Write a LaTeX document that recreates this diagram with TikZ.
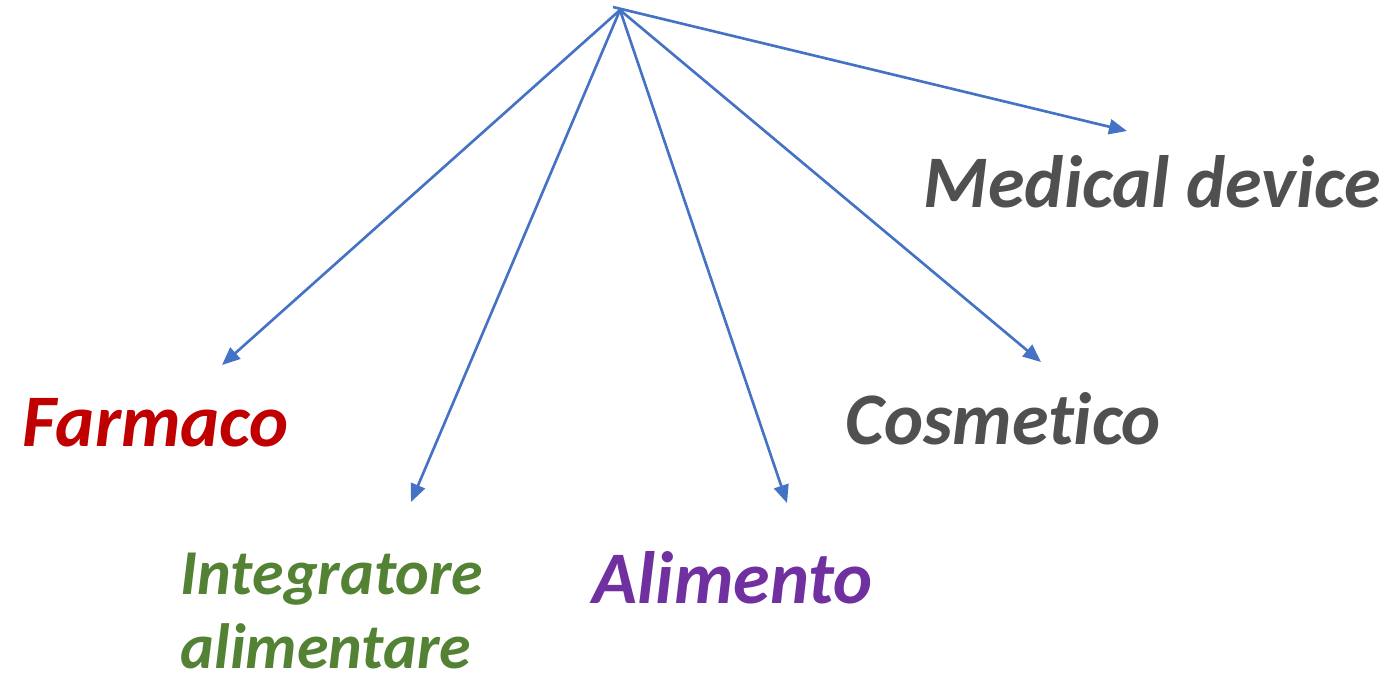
\documentclass[tikz,border=0pt]{standalone}
\usepackage{fontspec}
\setmainfont{Carlito}[Ligatures=NoCommon]
\usetikzlibrary{arrows.meta}
\definecolor{arrowblue}{HTML}{4472C4}
\definecolor{farmred}{HTML}{C00000}
\definecolor{intgreen}{HTML}{548235}
\definecolor{alipurple}{HTML}{7030A0}
\definecolor{darkgray}{HTML}{505050}
\begin{document}
\begin{tikzpicture}[
    arr/.style={draw=arrowblue, line width=0.75pt, -{Triangle[length=1.8mm,width=1.5mm]}},
    lab/.style={inner sep=0pt, anchor=base west, font=\bfseries\itshape\fontsize{21.1}{26}\selectfont},
    smalllab/.style={inner sep=0pt, anchor=base west, align=left, font=\bfseries\itshape\fontsize{18.2}{21}\selectfont}]
    \useasboundingbox (0,0) rectangle (13.88,-6.80);

   \coordinate (top) at (6.20,-0.10);
   \coordinate (tail) at (6.13,-0.07);
   \coordinate (farm) at (2.22,-3.65);
   \coordinate (integ) at (4.11,-5.02);
   \coordinate (alim) at (7.87,-5.03);
   \coordinate (cosm) at (10.41,-3.62);
   \coordinate (med) at (11.27,-1.31);

\node[lab, text=farmred] (farmaco) at (0.22,-4.46) {Farmaco};
\node[smalllab, text=intgreen] (integratore) at (1.80,-6.68) {Integratore\\alimentare};
\node[lab, text=alipurple] (alimento) at (5.92,-6.03) {Alimento};
\node[lab, text=darkgray] (cosmetico) at (8.45,-4.44) {Cosmetico};
\node[lab, text=darkgray] (medical) at (9.23,-2.07) {Medical device};

   \draw[arr] (top) -- (farm);
   \draw[arr] (top) -- (integ);
   \draw[arr] (top) -- (alim);
   \draw[arr] (top) -- (cosm);
   \draw[arr] (tail) -- (med);

\end{tikzpicture}
\end{document}
